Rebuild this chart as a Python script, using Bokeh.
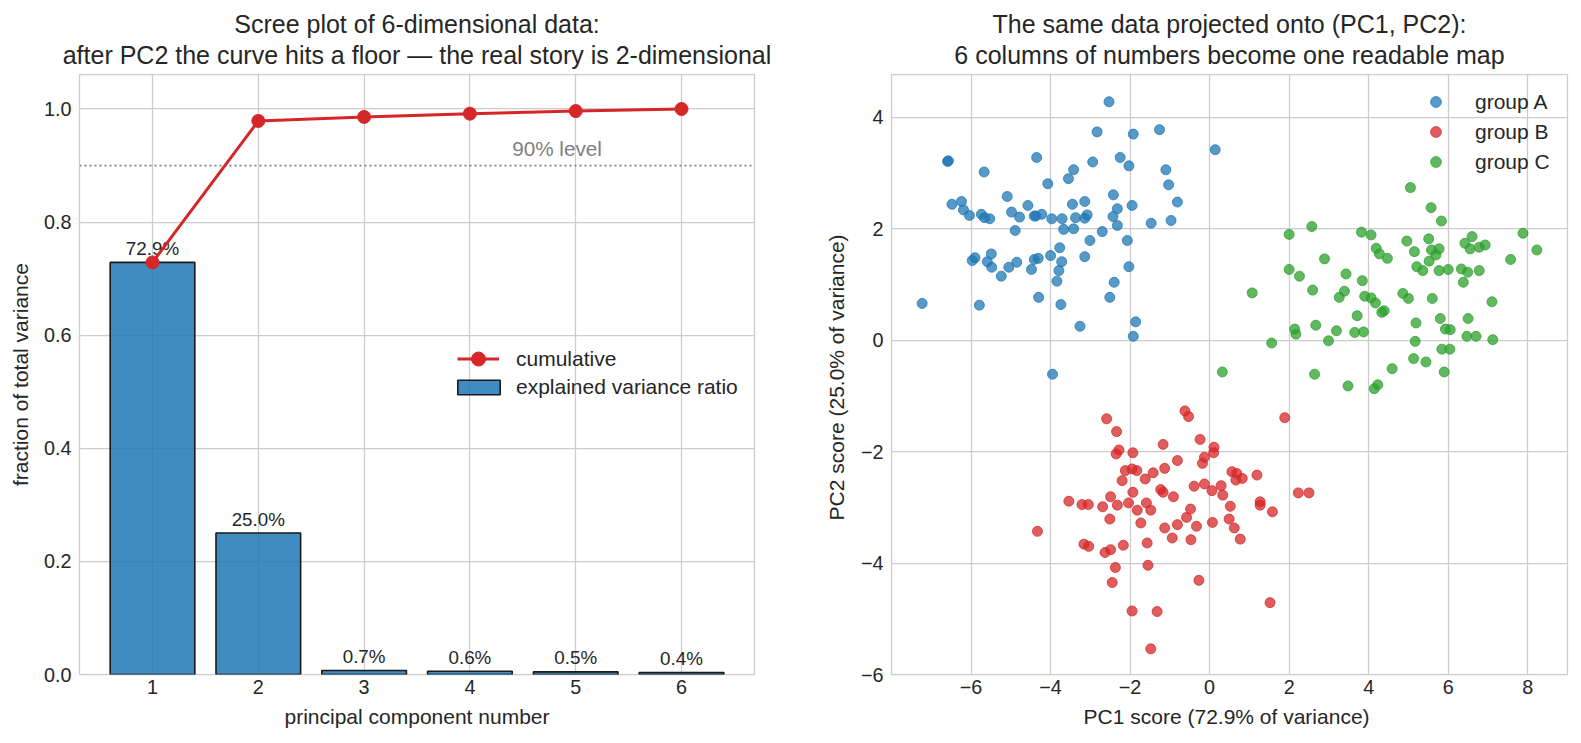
import numpy as np
from bokeh.plotting import figure
from bokeh.layouts import row
from bokeh.models import (ColumnDataSource, FixedTicker, Legend, LegendItem, Span, Title,
                          NumeralTickFormatter, CustomJSTickFormatter)
from bokeh.embed import file_html
from bokeh.resources import INLINE
from bokeh.core.properties import value

# ---------------- data ----------------
components = [1, 2, 3, 4, 5, 6]
explained_ratio = [0.7287, 0.2502, 0.0071, 0.0058, 0.0046, 0.0036]
threshold = 0.90

group_a_x = [-6.59, -6.57, -5.67, -4.35, -4.07, -6.48, -6.24, -6.19, -6.04, -5.74, -5.66, -5.53,
             -5.09, -4.98, -4.78, -4.89, -4.57, -4.41, -4.37, -4.22, -3.97, -3.77, -5.97, -5.90,
             -5.59, -5.49, -5.48, -5.24, -5.05, -4.85, -4.48, -4.41, -4.31, -4.00, -3.72, -3.79,
             -3.84, -4.30, -3.74, -7.23, -5.79, -3.95,
             -2.53, -2.83, -1.92, -1.26, 0.14, -2.25, -2.03, -2.94, -3.42, -3.55, -1.10, -1.03,
             -0.81, -2.42, -3.45, -3.14, -2.32, -1.95, -3.71, -3.37, -3.14, -3.08, -2.43, -2.32,
             -1.47, -0.97, -3.67, -3.42, -2.70, -3.01, -2.07, -3.14, -2.03, -2.40, -2.51, -3.26,
             -1.86, -1.92]
group_a_y = [3.21, 3.22, 3.02, 3.28, 2.81, 2.44, 2.49, 2.34, 2.24, 2.26, 2.20, 2.18,
             2.58, 2.30, 2.21, 1.97, 2.42, 2.23, 2.23, 2.26, 2.18, 1.66, 1.43, 1.48,
             1.41, 1.55, 1.31, 1.15, 1.31, 1.40, 1.27, 1.45, 1.47, 1.52, 1.41, 1.25,
             1.06, 0.77, 0.64, 0.66, 0.63, -0.61,
             4.28, 3.74, 3.70, 3.78, 3.42, 3.28, 3.13, 3.20, 3.06, 2.90, 3.06, 2.79,
             2.48, 2.61, 2.44, 2.49, 2.36, 2.42, 2.18, 2.20, 2.19, 2.25, 2.22, 2.06,
             2.10, 2.15, 1.99, 2.00, 1.95, 1.79, 1.79, 1.50, 1.32, 1.04, 0.77, 0.25,
             0.33, 0.07]

group_b_x = [-2.59, -2.34, -2.28, -2.35, -1.93, -2.12, -1.95, -1.83, -2.20, -1.62, -1.42, -3.54,
             -3.21, -3.05, -2.69, -2.49, -2.32, -2.04, -1.93, -1.82, -1.59, -1.48, -2.51, -1.73,
             -4.33, -3.16, -3.04, -2.63, -2.49, -2.17, -1.57, -2.37, -1.55, -2.45, -1.95, -1.32,
             -1.48,
             -0.62, -0.53, 1.89, -1.17, -0.24, 0.11, 0.10, -0.13, -0.18, -0.81, -1.13, 0.56,
             0.68, 0.66, 0.82, 1.19, -1.23, -1.17, -0.91, -0.39, -0.13, 0.06, 0.29, 0.33,
             0.52, 1.27, 1.27, 1.58, 2.23, 2.50, -0.48, -0.58, -1.13, -0.81, -0.33, 0.07,
             0.49, 0.62, 0.77, -0.94, -0.47, -0.27, 1.52]
group_b_y = [-1.41, -1.64, -1.97, -2.04, -2.02, -2.34, -2.31, -2.34, -2.52, -2.49, -2.38, -2.89,
             -2.95, -2.95, -2.99, -2.81, -2.96, -2.92, -2.73, -3.05, -2.92, -3.05, -3.21, -3.28,
             -3.43, -3.66, -3.70, -3.81, -3.76, -3.68, -3.64, -4.08, -4.04, -4.35, -4.86, -4.87,
             -5.54,
             -1.27, -1.37, -1.39, -1.87, -1.78, -1.92, -2.02, -2.10, -2.21, -2.16, -2.30, -2.36,
             -2.39, -2.51, -2.48, -2.42, -2.68, -2.73, -2.81, -2.62, -2.58, -2.70, -2.61, -2.78,
             -2.98, -2.90, -2.96, -3.08, -2.74, -2.74, -3.03, -3.18, -3.37, -3.31, -3.34, -3.27,
             -3.21, -3.37, -3.57, -3.55, -3.58, -4.31, -4.71]

group_c_x = [2.57, 2.00, 3.82, 2.89, 2.00, 2.26, 3.43, 3.84, 2.59, 3.39, 3.26, 3.90, 1.07,
             3.71, 2.14, 2.17, 2.67, 3.19, 3.65, 3.87, 2.99, 1.56, 0.32, 2.64, 3.48,
             5.05, 5.57, 5.83, 4.06, 4.96, 5.51, 4.19, 4.27, 4.47, 5.15, 5.58, 5.77, 5.69,
             5.52, 5.21, 5.36, 5.77, 6.00, 6.42, 6.60, 6.55, 6.78, 6.93, 7.88, 8.23, 7.57,
             6.33, 6.49, 6.78, 6.38, 4.06, 4.17, 4.14, 4.23, 4.86, 5.00, 5.60, 7.10, 4.33,
             4.39, 5.19, 5.80, 6.50, 5.93, 6.05, 6.47, 6.70, 7.12, 5.17, 5.84, 6.04, 5.13,
             5.44, 4.59, 5.90]
group_c_y = [2.04, 1.90, 1.94, 1.46, 1.27, 1.15, 1.19, 1.07, 0.90, 0.88, 0.77, 0.79, 0.85,
             0.44, 0.20, 0.11, 0.27, 0.17, 0.14, 0.15, -0.01, -0.05, -0.57, -0.61, -0.82,
             2.74, 2.38, 2.14, 1.89, 1.78, 1.82, 1.65, 1.55, 1.47, 1.59, 1.62, 1.64, 1.53,
             1.42, 1.32, 1.25, 1.25, 1.27, 1.74, 1.86, 1.64, 1.67, 1.71, 1.92, 1.62, 1.45,
             1.28, 1.22, 1.25, 1.04, 0.76, 0.67, -0.87, -0.80, 0.84, 0.75, 0.75, 0.69, 0.50,
             0.53, 0.31, 0.39, 0.39, 0.20, 0.19, 0.07, 0.07, 0.01, -0.02, -0.16, -0.16, -0.33,
             -0.39, -0.51, -0.57]

group_names = ["group A", "group B", "group C"]
group_colors = ["#1f77b4", "#d62728", "#2ca02c"]

# ---------------- styling ----------------
FONT = "Liberation Sans"
TXT = "#262626"
GRID = "#cccccc"
TICK_PX = "19.8px"
LABEL_PX = "21px"
LEGEND_PX = "21px"
TITLE_PX = "25px"


def style_axes(p, xstandoff, ystandoff):
    p.outline_line_color = GRID
    p.outline_line_width = 1.25
    p.grid.grid_line_color = GRID
    p.grid.grid_line_width = 1.25
    for ax in (p.xaxis[0], p.yaxis[0]):
        ax.axis_line_color = None
        ax.major_tick_line_color = None
        ax.minor_tick_line_color = None
        ax.major_tick_out = 0
        ax.major_tick_in = 0
        ax.major_label_text_font = FONT
        ax.major_label_text_font_size = TICK_PX
        ax.major_label_text_color = TXT
        ax.axis_label_text_font = FONT
        ax.axis_label_text_font_size = LABEL_PX
        ax.axis_label_text_font_style = "normal"
        ax.axis_label_text_color = TXT
    p.xaxis[0].major_label_standoff = 5
    p.xaxis[0].axis_label_standoff = xstandoff
    p.yaxis[0].major_label_standoff = 8
    p.yaxis[0].axis_label_standoff = ystandoff


def add_titles(p, first, second):
    # the first title added sits next to the frame, the next one above it
    common = dict(align="center", text_font=FONT, text_font_size=TITLE_PX,
                  text_font_style="normal", text_color=TXT)
    p.add_layout(Title(text=second, standoff=12, **common), "above")
    p.add_layout(Title(text=first, standoff=-10, **common), "above")


# ---------------- scree plot ----------------
cumulative = np.cumsum(explained_ratio)
bar_labels = [f"{r * 100:.1f}%" for r in explained_ratio]
scree = ColumnDataSource(dict(pc=components, ratio=explained_ratio, cum=cumulative, lab=bar_labels))

p1 = figure(width=820, height=743, x_range=(0.31, 6.69), y_range=(0, 1.061), title=None,
            output_backend="svg", toolbar_location=None,
            min_border_left=79, min_border_right=66, min_border_top=74, min_border_bottom=69)
add_titles(p1, "Scree plot of 6-dimensional data:",
           "after PC2 the curve hits a floor \u2014 the real story is 2-dimensional")
style_axes(p1, 8, 9)
p1.xaxis.ticker = FixedTicker(ticks=components)
p1.yaxis.ticker = FixedTicker(ticks=[0.0, 0.2, 0.4, 0.6, 0.8, 1.0])
p1.yaxis.formatter = NumeralTickFormatter(format="0.0")
p1.xaxis.axis_label = "principal component number"
p1.yaxis.axis_label = "fraction of total variance"

level_line = Span(location=threshold, dimension="width", line_color="#808080",
                  line_dash="2 3", line_width=1.8, level="underlay")
p1.add_layout(level_line)
p1.text(x=[4.4], y=[threshold], text=[f"{threshold * 100:.0f}% level"], y_offset=-17,
        text_align="left", text_baseline="alphabetic", text_font=value(FONT),
        text_font_size="20.7px", text_color="#808080")

bars = p1.vbar(x="pc", top="ratio", width=0.8, source=scree, fill_color="#1f77b4",
               fill_alpha=0.85, line_color="#1a1a1a", line_width=1.6)
p1.text(x="pc", y="ratio", text="lab", source=scree, y_offset=-14, text_align="center",
        text_baseline="alphabetic", text_font=value(FONT), text_font_size="18.8px",
        text_color=TXT)
cum_line = p1.line(x="pc", y="cum", source=scree, line_color="#d62728", line_width=3)
cum_pts = p1.scatter(x="pc", y="cum", source=scree, size=13, fill_color="#d62728",
                     line_color="#d62728", line_width=1)

leg_common = dict(padding=0, margin=0, spacing=0, border_line_alpha=0,
                  background_fill_alpha=0, label_text_font=FONT,
                  label_text_font_size=LEGEND_PX, label_text_color=TXT)
p1.add_layout(Legend(items=[LegendItem(label="cumulative", renderers=[cum_line, cum_pts])],
                     location=(378, 298), glyph_width=42, glyph_height=35,
                     label_standoff=17, **leg_common))
p1.add_layout(Legend(items=[LegendItem(label="explained variance ratio", renderers=[bars])],
                     location=(373, 275), glyph_width=53, glyph_height=18, label_height=18,
                     label_standoff=11, **leg_common))

# ---------------- projection plot ----------------
p2 = figure(width=761, height=743, x_range=(-8.0, 9.0), y_range=(-6.0, 4.77), title=None,
            output_backend="svg", toolbar_location=None,
            min_border_left=71, min_border_right=14, min_border_top=74, min_border_bottom=69)
add_titles(p2, "The same data projected onto (PC1, PC2):",
           "6 columns of numbers become one readable map")
style_axes(p2, 8, 10)
p2.xaxis.ticker = FixedTicker(ticks=[-6, -4, -2, 0, 2, 4, 6, 8])
p2.yaxis.ticker = FixedTicker(ticks=[-6, -4, -2, 0, 2, 4])
minus_fmt = "return tick < 0 ? '\\u2212' + (-tick) : String(tick);"
p2.xaxis.formatter = CustomJSTickFormatter(code=minus_fmt)
p2.yaxis.formatter = CustomJSTickFormatter(code=minus_fmt)
p2.xaxis.axis_label = f"PC1 score  ({explained_ratio[0] * 100:.1f}% of variance)"
p2.yaxis.axis_label = f"PC2 score  ({explained_ratio[1] * 100:.1f}% of variance)"

groups = [(group_a_x, group_a_y), (group_b_x, group_b_y), (group_c_x, group_c_y)]
items = []
for (gx, gy), name, color in zip(groups, group_names, group_colors):
    r = p2.scatter(x=gx, y=gy, size=10, fill_color=color, fill_alpha=0.75,
                   line_color=color, line_alpha=0.75, line_width=1)
    items.append(LegendItem(label=name, renderers=[r]))
p2.add_layout(Legend(items=items, location=(524, 499), glyph_width=41, glyph_height=27,
                     label_standoff=19, **{**leg_common, "spacing": 3}))

layout = row(p1, p2)
open("out.html", "w").write(file_html(layout, INLINE))
